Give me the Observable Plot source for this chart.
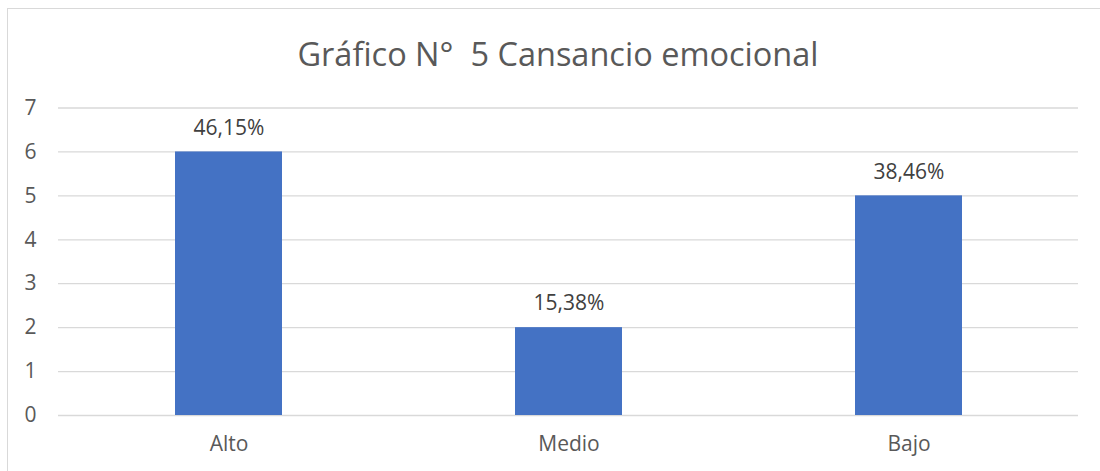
<!DOCTYPE html>
<html><head><meta charset="utf-8">
<script src="https://cdn.jsdelivr.net/npm/d3@7"></script>
<script src="https://cdn.jsdelivr.net/npm/@observablehq/plot@0.6"></script>
<style>
body{margin:0;background:#fff;}
#wrap{position:relative;width:1100px;height:471px;overflow:hidden;}
#frame{position:absolute;left:7px;top:8px;width:1100px;height:470px;border:1px solid #d9d9d9;box-sizing:border-box;}
#title{position:absolute;left:0;top:32px;width:1116px;text-align:center;font-family:"Open Sans",sans-serif;font-size:32.5px;color:#595959;line-height:44px;}
#chart{position:absolute;left:0;top:0;}
</style></head>
<body><div id="wrap"><div id="frame"></div><div id="title">Gráfico N°&nbsp; 5 Cansancio emocional</div><div id="chart"></div></div>
<script>
const categories = ["Alto", "Medio", "Bajo"];
const counts = [6, 2, 5];
const percentLabels = ["46,15%", "15,38%", "38,46%"];
const yTicks = [0, 1, 2, 3, 4, 5, 6, 7];

const data = categories.map((c, i) => ({cat: c, n: counts[i], lab: percentLabels[i]}));

const chart = Plot.plot({
  width: 1100, height: 471,
  marginTop: 107.5, marginBottom: 56, marginLeft: 58, marginRight: 22,
  style: {fontFamily: "'Open Sans', sans-serif", fontSize: "21px", color: "#595959", background: "transparent"},
  x: {domain: categories, paddingInner: 0.686, paddingOuter: 0.343, label: null},
  y: {domain: [0, 7], label: null},
  marks: [
    Plot.gridY(yTicks, {stroke: "#d9d9d9", strokeOpacity: 1, strokeWidth: 1.3}),
    Plot.barY(data, {x: "cat", y: "n", fill: "#4472c4"}),
    Plot.text(data, {x: "cat", y: "n", text: "lab", dy: -24, lineAnchor: "middle", fill: "#404040", fontSize: 21}),
    Plot.axisX({tickSize: 0, tickPadding: 21, fontSize: 21, fill: "#595959", label: null}),
    Plot.axisY(yTicks, {tickSize: 0, tickPadding: 22, fontSize: 21, fill: "#595959", label: null, tickFormat: d => String(d)})
  ]
});
document.getElementById("chart").appendChild(chart);
</script></body></html>
